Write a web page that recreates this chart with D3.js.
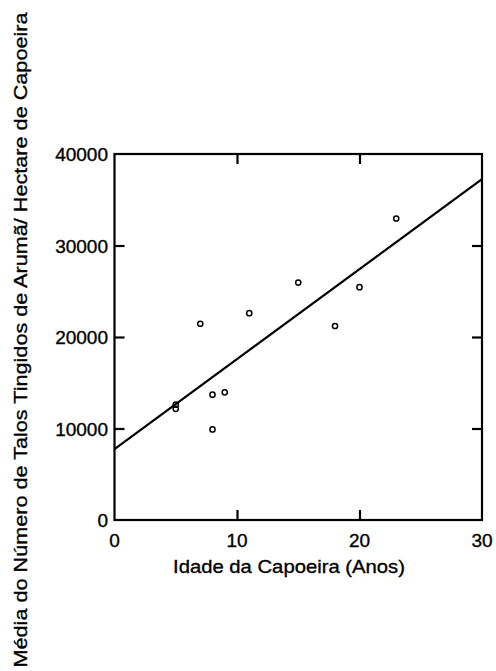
<!DOCTYPE html>
<html>
<head>
<meta charset="utf-8">
<script src="https://cdn.jsdelivr.net/npm/d3@7"></script>
<style>
  html, body { margin: 0; padding: 0; background: #fff; }
  svg { display: block; }
  text { font-family: "Liberation Sans", Arial, Helvetica, sans-serif; fill: #000; stroke: #000; stroke-width: 0.35px; }
</style>
</head>
<body>
<svg id="chart" width="496" height="671"></svg>
<script>
// Data
const ages = [5, 5, 7, 8, 8, 9, 11, 15, 18, 20, 23];
const stalks = [12600, 12150, 21450, 13700, 9900, 13950, 22600, 25950, 21200, 25450, 32950];
const fitX = [0, 30];
const fitY = [7750, 37250];
const xTicks = [0, 10, 20, 30];
const yTicks = [0, 10000, 20000, 30000, 40000];
const xTitle = "Idade da Capoeira (Anos)";
const yTitle = "Média do Número de Talos Tingidos de Arumã/ Hectare de Capoeira";

const svg = d3.select("#chart");
const L = 114.5, R = 482, T = 154, B = 520;

const x = d3.scaleLinear().domain([0, 30]).range([L, R]);
const y = d3.scaleLinear().domain([0, 40000]).range([B, T]);

const font = 19;

// Axes with inward ticks
const axB = d3.axisBottom(x).tickValues(xTicks.slice(1, -1)).tickSize(-10).tickFormat("");
const axT = d3.axisTop(x).tickValues(xTicks.slice(1, -1)).tickSize(-10).tickFormat("");
const axL = d3.axisLeft(y).tickValues(yTicks.slice(1, -1)).tickSize(-10).tickFormat("");
const axR = d3.axisRight(y).tickValues(yTicks.slice(1, -1)).tickSize(-10).tickFormat("");

function style(g) {
  g.selectAll(".domain").remove();
  g.selectAll(".tick line").attr("stroke", "#000").attr("stroke-width", 2.2);
}
svg.append("g").attr("transform", `translate(0,${B})`).call(axB).call(style);
svg.append("g").attr("transform", `translate(0,${T})`).call(axT).call(style);
svg.append("g").attr("transform", `translate(${L},0)`).call(axL).call(style);
svg.append("g").attr("transform", `translate(${R},0)`).call(axR).call(style);

// Frame
svg.append("rect")
  .attr("x", L).attr("y", T).attr("width", R - L).attr("height", B - T)
  .attr("fill", "none").attr("stroke", "#000").attr("stroke-width", 2.2);

// Tick labels
svg.append("g").selectAll("text").data(xTicks).join("text")
  .attr("x", d => x(d)).attr("y", 547)
  .attr("text-anchor", "middle").attr("font-size", font)
  .text(d => d);

svg.append("g").selectAll("text").data(yTicks).join("text")
  .attr("x", 108).attr("y", d => y(d) + 7)
  .attr("text-anchor", "end").attr("font-size", font)
  .text(d => d);

// Regression line
svg.append("path")
  .datum(fitX.map((v, i) => [v, fitY[i]]))
  .attr("d", d3.line().x(d => x(d[0])).y(d => y(d[1])))
  .attr("fill", "none").attr("stroke", "#000").attr("stroke-width", 2.2);

// Points
svg.append("g").selectAll("circle").data(ages.map((a, i) => [a, stalks[i]])).join("circle")
  .attr("cx", d => x(d[0])).attr("cy", d => y(d[1])).attr("r", 2.6)
  .attr("fill", "none").attr("stroke", "#000").attr("stroke-width", 1.5);

// Axis titles
svg.append("text")
  .attr("x", 289).attr("y", 573)
  .attr("text-anchor", "middle").attr("font-size", font)
  .attr("textLength", 232).attr("lengthAdjust", "spacingAndGlyphs")
  .text(xTitle);

svg.append("text")
  .attr("transform", "translate(27,340) rotate(-90)")
  .attr("text-anchor", "middle").attr("font-size", font)
  .attr("textLength", 655).attr("lengthAdjust", "spacingAndGlyphs")
  .text(yTitle);
</script>
</body>
</html>
